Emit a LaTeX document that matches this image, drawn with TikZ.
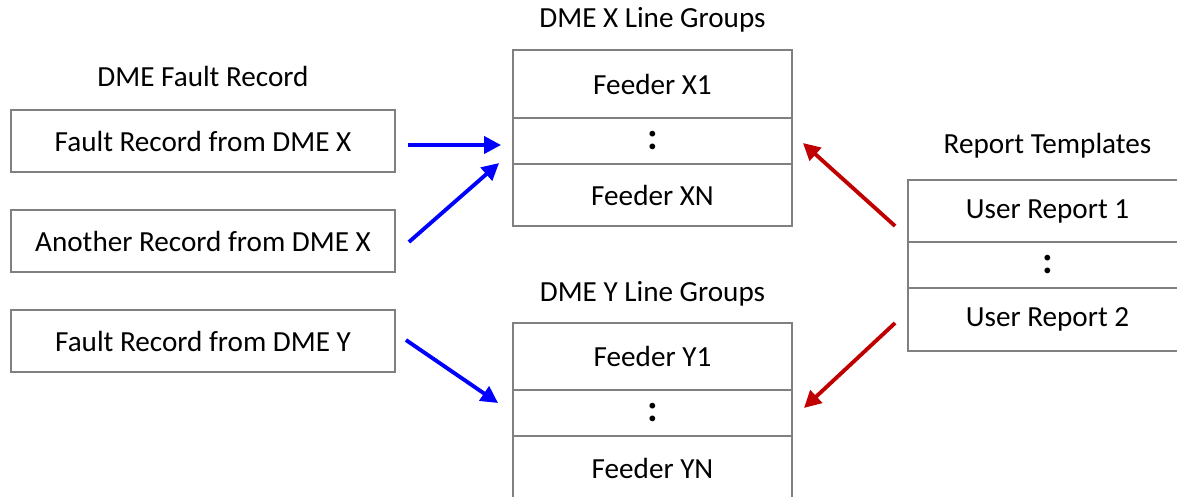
\documentclass[tikz,border=0pt]{standalone}
\usepackage{fontspec}
\setmainfont{Carlito}
\usetikzlibrary{arrows.meta}
\definecolor{boxgray}{RGB}{128,128,128}
\definecolor{darkred}{RGB}{192,0,0}
\tikzstyle{rec} = [draw=boxgray, line width=1.1pt, minimum width=7.68cm, minimum height=1.24cm, inner sep=0pt]
\tikzstyle{grp} = [draw=boxgray, line width=1.1pt, minimum width=5.58cm, inner sep=0pt]
\tikzstyle{head} = []
\tikzstyle{dots} = [font=\fontsize{22}{22}\selectfont\bfseries]
\tikzstyle{feed} = [line width=2.2pt, -{Triangle[length=0.34cm,width=0.34cm]}]

\begin{document}
\begin{tikzpicture}[x=0.02cm, y=-0.02cm, font=\fontsize{16.6}{20}\selectfont]
	  \useasboundingbox (0,0) rectangle (1177,497);

	  % fault records
	  \node (title1) at (203,76) [head] {DME Fault Record};
	  \node (fx) at (203,141) [rec] {Fault Record from DME X};
	  \node (ax) at (203,241) [rec] {Another Record from DME X};
	  \node (fy) at (203,341) [rec] {Fault Record from DME Y};

	  % line groups
	  \node (title2) at (652.5,20) [head] {DME X Line Groups};
	  \node (x1) at (652.5,84) [grp, minimum height=1.36cm] {Feeder X1};
	  \node (x2) at (652.5,141) [grp, minimum height=0.92cm] {};
	  \node at (x2) [dots] {:};
	  \node (x3) at (652.5,195) [grp, minimum height=1.24cm] {Feeder XN};

	  \node (title3) at (652.5,294) [head] {DME Y Line Groups};
	  \node (y1) at (652.5,356.5) [grp, minimum height=1.34cm] {Feeder Y1};
	  \node (y2) at (652.5,413) [grp, minimum height=0.92cm] {};
	  \node at (y2) [dots] {:};
	  \node (y3) at (652.5,468) [grp, minimum height=1.28cm] {Feeder YN};

	  % templates
	  \node (title4) at (1047.5,146) [head] {Report Templates};
	  \node (ur1) at (1047.5,211) [grp, minimum height=1.24cm] {User Report 1};
	  \node (ur2) at (1047.5,265) [grp, minimum height=0.92cm] {};
	  \node at (ur2) [dots] {:};
	  \node (ur3) at (1047.5,319.5) [grp, minimum height=1.26cm] {User Report 2};

	  \draw [feed, blue] ([shift={(12,4)}]fx.east) -- ([shift={(-11,4)}]x2.west);
	  \draw [feed, blue] ([shift={(13,1)}]ax.east) -- ([shift={(-13,0)}]x3.north west);
	  \draw [feed, blue] ([shift={(10,-1)}]fy.east) -- ([shift={(-14,-10)}]y2.west);
	  \draw [feed, darkred] ([shift={(-12,15)}]ur1.west) -- ([shift={(10,2)}]x2.east);
	  \draw [feed, darkred] ([shift={(-12,3.5)}]ur3.west) -- ([shift={(11,-5)}]y2.east);
\end{tikzpicture}
\end{document}
